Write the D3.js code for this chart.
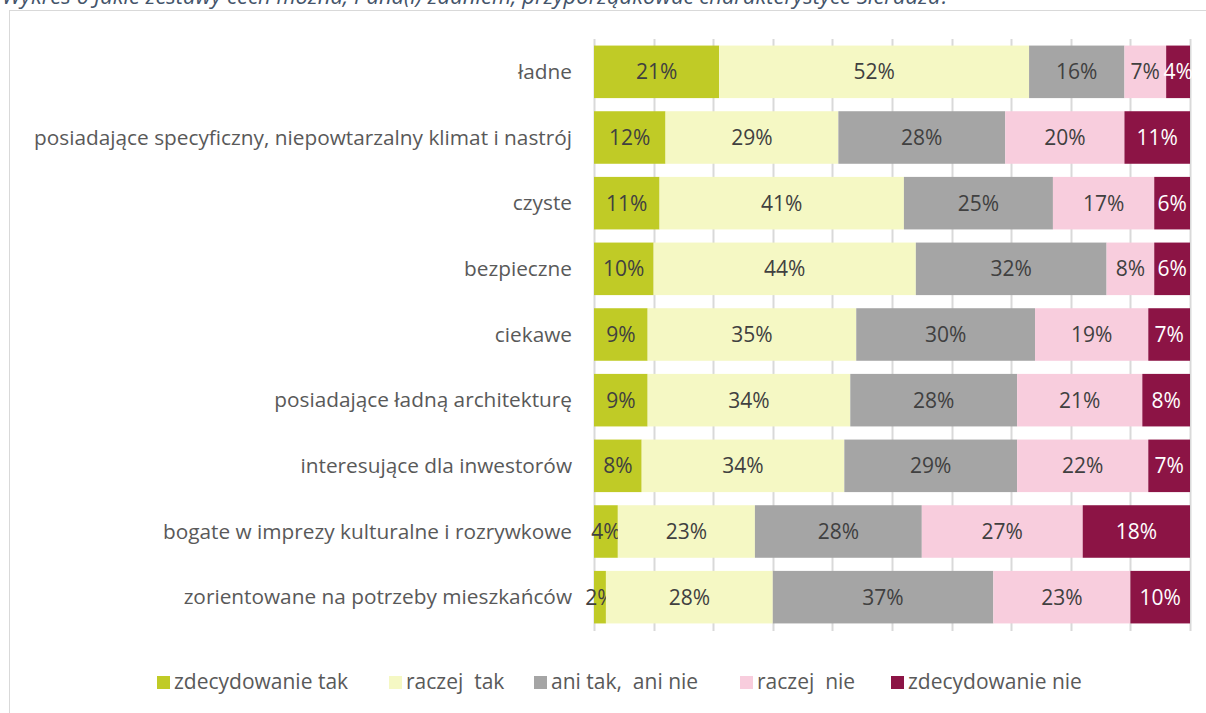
<!DOCTYPE html>
<html>
<head>
<meta charset="utf-8">
<script src="https://cdn.jsdelivr.net/npm/d3@7"></script>
<style>
  body { margin: 0; background: #fff; }
  svg { display: block; font-family: "Open Sans", Lato, sans-serif; }
  text { white-space: pre; }
</style>
</head>
<body>
<svg width="1206" height="713"></svg>
<script>
// categories, top to bottom
const categories = [
  "ładne",
  "posiadające specyficzny, niepowtarzalny klimat i nastrój",
  "czyste",
  "bezpieczne",
  "ciekawe",
  "posiadające ładną architekturę",
  "interesujące dla inwestorów",
  "bogate w imprezy kulturalne i rozrywkowe",
  "zorientowane na potrzeby mieszkańców"
];

const seriesNames = ["zdecydowanie tak", "raczej  tak", "ani tak,  ani nie", "raczej  nie", "zdecydowanie nie"];
const seriesColors = ["#c0cb26", "#f5f8c4", "#a5a5a5", "#f8cddd", "#8c1445"];

const zdecydowanieTak = [21, 12, 11, 10, 9, 9, 8, 4, 2];
const raczejTak = [52, 29, 41, 44, 35, 34, 34, 23, 28];
const aniTakAniNie = [16, 28, 25, 32, 30, 28, 29, 28, 37];
const raczejNie = [7, 20, 17, 8, 19, 21, 22, 27, 23];
const zdecydowanieNie = [4, 11, 6, 6, 7, 8, 7, 18, 10];

const title = "Wykres 6 Jakie zestawy cech można, Pana(i) zdaniem, przyporządkować charakterystyce Sieradza?";

const svg = d3.select("svg");
const width = +svg.attr("width");
const height = +svg.attr("height");

const rows = categories.map((c, i) => ({
  cat: c,
  s0: zdecydowanieTak[i],
  s1: raczejTak[i],
  s2: aniTakAniNie[i],
  s3: raczejNie[i],
  s4: zdecydowanieNie[i]
}));
const keys = ["s0", "s1", "s2", "s3", "s4"];
const stacked = d3.stack().keys(keys)(rows);

const x = d3.scaleLinear().domain([0, 100]).range([594, 1190]);
const y = d3.scaleBand().domain(categories).range([39, 630]).paddingInner(0.2).paddingOuter(0.1);

// title (clipped at top like in the source)
svg.append("text")
  .attr("x", 2)
  .attr("y", 4)
  .attr("fill", "#44546a")
  .attr("font-style", "italic")
  .attr("font-size", 22)
  .text(title);

// outer frame
svg.append("rect")
  .attr("x", 9.5)
  .attr("y", 10.5)
  .attr("width", width)
  .attr("height", height)
  .attr("fill", "none")
  .attr("stroke", "#d9d9d9");

// gridlines
svg.append("g")
  .selectAll("line")
  .data(x.ticks(10))
  .enter()
  .append("line")
  .attr("x1", d => Math.round(x(d)) + 0.5)
  .attr("x2", d => Math.round(x(d)) + 0.5)
  .attr("y1", 39)
  .attr("y2", 631)
  .attr("stroke", "#d9d9d9")
  .attr("stroke-width", 2);

// bars
const layer = svg.append("g")
  .selectAll("g")
  .data(stacked)
  .enter()
  .append("g")
  .attr("fill", (d, i) => seriesColors[i]);

layer.selectAll("rect")
  .data(d => d)
  .enter()
  .append("rect")
  .attr("x", d => x(d[0]))
  .attr("width", d => x(d[1]) - x(d[0]))
  .attr("y", d => y(d.data.cat))
  .attr("height", y.bandwidth());

// data labels
layer.each(function(s, si) {
  d3.select(this).selectAll("text")
    .data(s)
    .enter()
    .append("text")
    .attr("x", d => (x(d[0]) + x(d[1])) / 2)
    .attr("y", d => y(d.data.cat) + y.bandwidth() / 2)
    .attr("dy", "0.35em")
    .attr("text-anchor", "middle")
    .attr("font-size", 21)
    .attr("fill", si === 4 ? "#ffffff" : "#404040")
    .text(d => (d[1] - d[0]) + "%");
});

// category labels
svg.append("g")
  .selectAll("text")
  .data(categories)
  .enter()
  .append("text")
  .attr("x", 572)
  .attr("y", d => y(d) + y.bandwidth() / 2)
  .attr("dy", "0.35em")
  .attr("text-anchor", "end")
  .attr("font-size", 20.8)
  .attr("fill", "#595959")
  .text(d => d);

// legend
const legendX = [157, 389, 534, 740, 891];
const legend = svg.append("g")
  .selectAll("g")
  .data(seriesNames)
  .enter()
  .append("g")
  .attr("transform", (d, i) => "translate(" + legendX[i] + ",682)");

legend.append("rect")
  .attr("x", 0)
  .attr("y", -6)
  .attr("width", 13)
  .attr("height", 13)
  .attr("fill", (d, i) => seriesColors[i]);

legend.append("text")
  .attr("x", 17)
  .attr("y", 0)
  .attr("dy", "0.35em")
  .attr("font-size", 21)
  .attr("fill", "#595959")
  .text(d => d);
</script>
</body>
</html>
